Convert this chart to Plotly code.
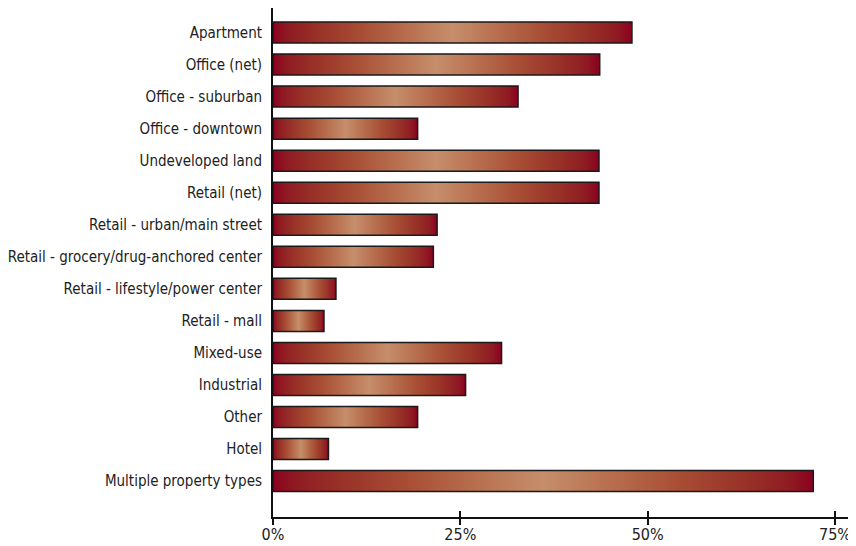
import plotly.graph_objects as go

categories = [
    "Apartment",
    "Office (net)",
    "Office - suburban",
    "Office - downtown",
    "Undeveloped land",
    "Retail (net)",
    "Retail - urban/main street",
    "Retail - grocery/drug-anchored center",
    "Retail - lifestyle/power center",
    "Retail - mall",
    "Mixed-use",
    "Industrial",
    "Other",
    "Hotel",
    "Multiple property types",
]
values = [47.9, 43.6, 32.7, 19.3, 43.5, 43.5, 21.9, 21.4, 8.4, 6.8, 30.5, 25.7, 19.3, 7.4, 72.1]
tick_values = [0, 25, 50, 75]
tick_labels = ["0%", "25%", "50%", "75%"]

bar_half = 0.328
gradient = [
    [0.0, "#8C0020"],
    [0.04, "#8F1A22"],
    [0.12, "#983027"],
    [0.25, "#A84E35"],
    [0.38, "#B8704F"],
    [0.5, "#C68E6C"],
    [0.62, "#B8704F"],
    [0.75, "#A84E35"],
    [0.88, "#983027"],
    [0.96, "#8F1A22"],
    [1.0, "#8C0020"],
]

font_family = "DejaVu Sans Condensed, Liberation Sans Narrow, Arial Narrow, sans-serif"
font_size = 15

fig = go.Figure()
for i, (cat, v) in enumerate(zip(categories, values)):
    fig.add_trace(go.Scatter(
        x=[0, v, v, 0, 0],
        y=[i - bar_half, i - bar_half, i + bar_half, i + bar_half, i - bar_half],
        mode="lines",
        fill="toself",
        fillgradient=dict(type="horizontal", colorscale=gradient),
        line=dict(color="#1a1a1a", width=1.5),
        name=cat,
        hoverinfo="text",
        text=f"{cat}: {v}%",
        showlegend=False,
    ))

# invisible trace for the overlaid tick axis
fig.add_trace(go.Scatter(x=[0], y=[0], xaxis="x2", mode="markers",
                         marker=dict(opacity=0), hoverinfo="skip", showlegend=False))

x_range = [0, 77]
fig.update_layout(
    width=848,
    height=538,
    margin=dict(l=265, r=6, t=0, b=29),
    paper_bgcolor="white",
    plot_bgcolor="white",
    font=dict(family=font_family, size=font_size, color="#222222"),
    xaxis=dict(
        range=x_range,
        tickvals=tick_values,
        ticktext=tick_labels,
        ticks="outside",
        ticklen=6,
        tickwidth=2,
        tickcolor="#111111",
        showline=True,
        linecolor="#111111",
        linewidth=2,
        showgrid=False,
        zeroline=False,
        automargin=False,
        ticklabelstandoff=-4,
        tickfont=dict(family=font_family, size=font_size + 1, color="#222222"),
    ),
    xaxis2=dict(
        range=x_range,
        overlaying="x",
        anchor="y",
        side="bottom",
        tickvals=tick_values,
        ticks="inside",
        ticklen=6,
        tickwidth=2,
        tickcolor="#111111",
        showticklabels=False,
        showline=False,
        showgrid=False,
        zeroline=False,
    ),
    yaxis=dict(
        range=[15.12, -0.765],
        tickvals=list(range(len(categories))),
        ticktext=categories,
        ticks="",
        showline=True,
        linecolor="#111111",
        linewidth=2,
        showgrid=False,
        zeroline=False,
        automargin=False,
        ticklabelstandoff=6,
        tickfont=dict(family=font_family, size=font_size, color="#222222"),
    ),
)

fig.write_html("out.html")
